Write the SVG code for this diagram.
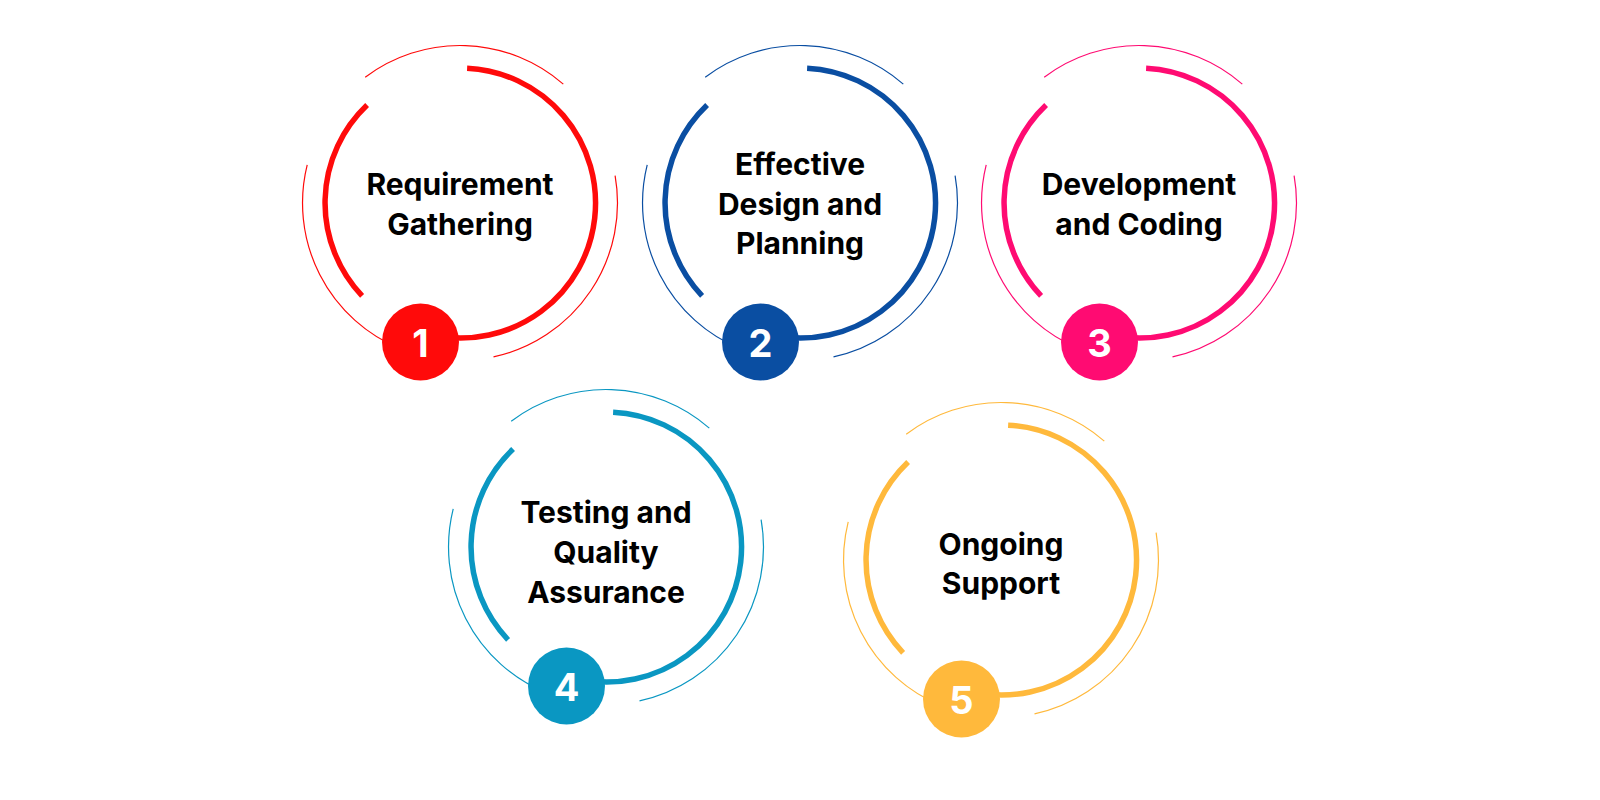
<svg xmlns="http://www.w3.org/2000/svg" xmlns:xlink="http://www.w3.org/1999/xlink" width="1600" height="800" viewBox="0 0 1600 800">
<style>
.thick{fill:none;stroke:currentColor;stroke-width:5.5}
.thin{fill:none;stroke:currentColor;stroke-width:1.2}
.label{font-family:Inter,"Liberation Sans",sans-serif;font-weight:700;font-size:30px;fill:#000;text-anchor:middle}
.num{font-family:Inter,"Liberation Sans",sans-serif;font-weight:700;font-size:38px;fill:#fff;text-anchor:middle}
</style>
<defs>
<g id="rings">
<path class="thick" d="M -97.9,92.9 A 135 135 0 0 1 -92.9,-97.9"/>
<path class="thick" d="M 7.1,-134.8 A 135 135 0 1 1 -23.4,132.9"/>
<path class="thin" d="M -94.8,-125.8 A 157.5 157.5 0 0 1 103.3,-118.9"/>
<path class="thin" d="M 155.1,-27.3 A 157.5 157.5 0 0 1 33.5,153.9"/>
<path class="thin" d="M -59,146 A 157.5 157.5 0 0 1 -152.8,-38.1"/>
<circle cx="-39.5" cy="139" r="38.5" fill="currentColor"/>
</g>
</defs>
<rect width="1600" height="800" fill="#fff"/>
<g id="connectors"></g>
<g id="node1" transform="translate(460,203)" style="color:#FF0A0A">
<use xlink:href="#rings"/>
<text class="label" x="0" y="-8">Requirement</text>
<text class="label" x="0" y="32">Gathering</text>
<text class="num" x="-39.5" y="154">1</text>
</g>
<g id="node2" transform="translate(800,203)" style="color:#0A4EA2">
<use xlink:href="#rings"/>
<text class="label" x="0" y="-28">Effective</text>
<text class="label" x="0" y="12">Design and</text>
<text class="label" x="0" y="51">Planning</text>
<text class="num" x="-39.5" y="154">2</text>
</g>
<g id="node3" transform="translate(1139,203)" style="color:#FF0B72">
<use xlink:href="#rings"/>
<text class="label" x="0" y="-8">Development</text>
<text class="label" x="0" y="32">and Coding</text>
<text class="num" x="-39.5" y="154">3</text>
</g>
<g id="node4" transform="translate(606,547)" style="color:#0A97C2">
<use xlink:href="#rings"/>
<text class="label" x="0" y="-24">Testing and</text>
<text class="label" x="0" y="16">Quality</text>
<text class="label" x="0" y="56">Assurance</text>
<text class="num" x="-39.5" y="154">4</text>
</g>
<g id="node5" transform="translate(1001,560)" style="color:#FFB93C">
<use xlink:href="#rings"/>
<text class="label" x="0" y="-5">Ongoing</text>
<text class="label" x="0" y="34">Support</text>
<text class="num" x="-39.5" y="154">5</text>
</g>
</svg>
